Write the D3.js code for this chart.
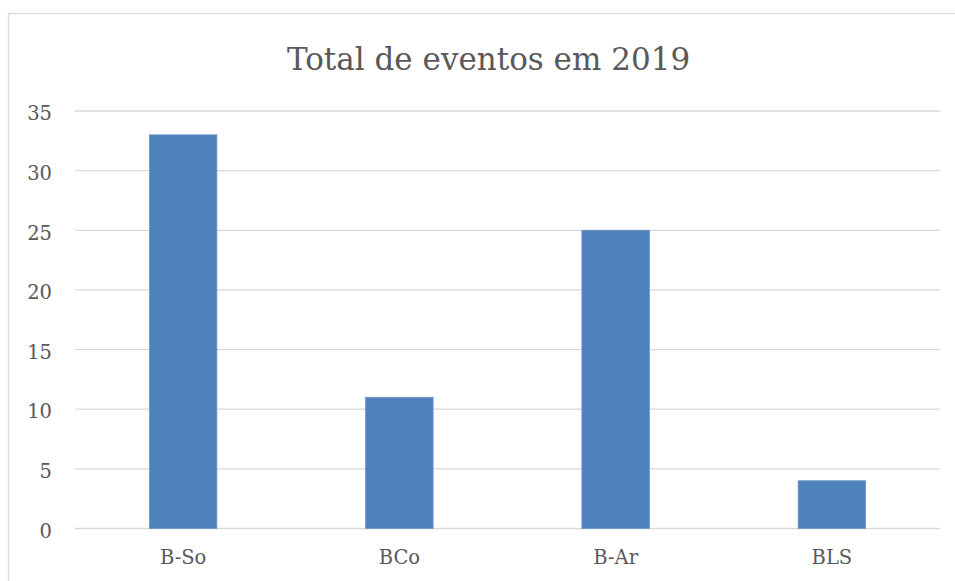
<!DOCTYPE html>
<html>
<head>
<meta charset="utf-8">
<script src="https://cdnjs.cloudflare.com/ajax/libs/d3/7.8.5/d3.min.js"></script>
<style>
    body { margin: 0; background: #fff; }
    text { font-family: "DejaVu Serif", serif; fill: #595959; }
</style>
</head>
<body>
<div id="chart"></div>
<script>
const categories = ['B-So', 'BCo', 'B-Ar', 'BLS'];
const values = [33, 11, 25, 4];
const yTicks = [0, 5, 10, 15, 20, 25, 30, 35];
const title = 'Total de eventos em 2019';

function makeBarChart(node) {
    const rawWidth = 955;
    const rawHeight = 581;
    const svg = d3.select(node)
        .append('svg')
        .attr('width', rawWidth)
        .attr('height', rawHeight),
        margin = {
            left: 75,
            right: 15,
            top: 111,
            bot: 52.5
        },
        width = rawWidth - margin.left - margin.right,
        height = rawHeight - margin.top - margin.bot;

    // chart frame, runs off the right and bottom edges
    svg.append('rect')
        .attr('x', 8.5)
        .attr('y', 13.5)
        .attr('width', 980)
        .attr('height', 600)
        .attr('fill', 'none')
        .attr('stroke', '#d9d9d9')
        .attr('stroke-width', 1.3);

    svg.append('text')
        .attr('x', 488.5)
        .attr('y', 70)
        .attr('text-anchor', 'middle')
        .style('font-size', '31px')
        .text(title);

    const g = svg.append('g')
        .attr('transform', `translate(${margin.left},${margin.top})`);

    const x = d3.scaleBand()
        .domain(categories)
        .range([0, width])
        .paddingInner(0.688)
        .paddingOuter(0.344);

    const y = d3.scaleLinear()
        .domain([0, 35])
        .range([height, 0]);

    // gridlines
    g.append('g')
        .selectAll('line')
        .data(yTicks)
        .join('line')
        .attr('x1', 0)
        .attr('x2', width)
        .attr('y1', d => y(d))
        .attr('y2', d => y(d))
        .attr('stroke', '#d9d9d9')
        .attr('stroke-width', 1.3);

    const yAxis = g.append('g')
        .call(d3.axisLeft(y).tickValues(yTicks).tickSize(0).tickPadding(23));
    yAxis.select('.domain').remove();
    yAxis.selectAll('text')
        .style('font-size', '19.5px')
        .attr('dy', '0.45em');

    g.selectAll('rect.bar')
        .data(values)
        .join('rect')
        .attr('class', 'bar')
        .attr('x', (d, i) => x(categories[i]))
        .attr('y', d => y(d))
        .attr('width', x.bandwidth())
        .attr('height', d => height - y(d))
        .attr('fill', '#4f81bd')
        .attr('stroke', '#6a95c8')
        .attr('stroke-width', 0.8);

    const xAxis = g.append('g')
        .attr('transform', `translate(0,${height})`)
        .call(d3.axisBottom(x).tickSize(0).tickPadding(22));
    xAxis.select('.domain').remove();
    xAxis.selectAll('text').style('font-size', '19.5px');
}

makeBarChart(document.getElementById('chart'));
</script>
</body>
</html>
